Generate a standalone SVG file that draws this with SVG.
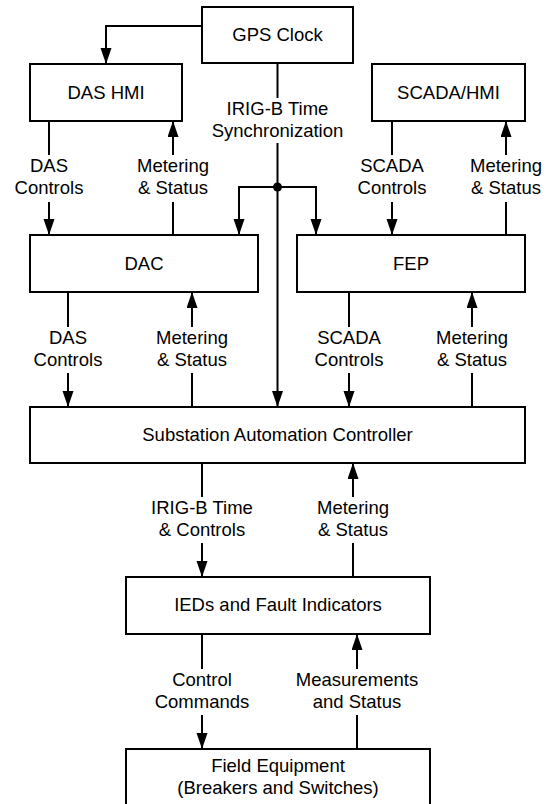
<svg xmlns="http://www.w3.org/2000/svg" width="548" height="804" viewBox="0 0 548 804">
<style>
.box{fill:#fff;stroke:#000;stroke-width:2}
.ln{fill:none;stroke:#000;stroke-width:2}
.arr{marker-end:url(#ah)}
text{font-family:"Liberation Sans",Arial,sans-serif;font-size:18.5px;fill:#000;text-anchor:middle}
</style>
<defs>
<marker id="ah" markerUnits="userSpaceOnUse" markerWidth="17" markerHeight="12" refX="16" refY="5.5" orient="auto">
<path d="M0,0 L16,5.5 L0,11 z" fill="#000"/>
</marker>
</defs>
<rect width="548" height="804" fill="#fff"/>
<g id="gps-clock"><rect class="box" x="202" y="7" width="151" height="56"/><text x="277.5" y="41">GPS Clock</text></g>
<g id="das-hmi"><rect class="box" x="30" y="64" width="152" height="57"/><text x="106" y="98.5">DAS HMI</text></g>
<g id="scada-hmi"><rect class="box" x="372" y="64" width="153" height="57"/><text x="448.5" y="98.5">SCADA/HMI</text></g>
<g id="dac"><rect class="box" x="30" y="235" width="228" height="57"/><text x="144" y="270">DAC</text></g>
<g id="fep"><rect class="box" x="297" y="235" width="228" height="57"/><text x="411" y="270">FEP</text></g>
<g id="sac"><rect class="box" x="30" y="407" width="495" height="56"/><text x="277.5" y="441">Substation Automation Controller</text></g>
<g id="ieds"><rect class="box" x="126" y="577" width="304" height="57"/><text x="278" y="611">IEDs and Fault Indicators</text></g>
<g id="field"><rect class="box" x="126" y="749" width="304" height="80"/><text x="278" y="772">Field Equipment</text><text x="278" y="794">(Breakers and Switches)</text></g>
<g id="connectors">
<path class="ln arr" d="M202,26 H106 V64"/>
<path class="ln" d="M277.5,63 V98"/>
<path class="ln arr" d="M277.5,143 V407"/>
<path class="ln arr" d="M277.5,187 H239 V235"/>
<path class="ln arr" d="M277.5,187 H316 V235"/>
<circle cx="277.5" cy="187" r="4.5" fill="#000"/>
<path class="ln" d="M49,121 V155"/><path class="ln arr" d="M49,202 V235"/>
<path class="ln arr" d="M173,155 V121"/><path class="ln" d="M173,202 V235"/>
<path class="ln" d="M392,121 V155"/><path class="ln arr" d="M392,202 V235"/>
<path class="ln arr" d="M506,155 V121"/><path class="ln" d="M506,202 V235"/>
<path class="ln" d="M68,292 V327"/><path class="ln arr" d="M68,373 V407"/>
<path class="ln arr" d="M192,327 V292"/><path class="ln" d="M192,373 V407"/>
<path class="ln" d="M349,292 V327"/><path class="ln arr" d="M349,373 V407"/>
<path class="ln arr" d="M472,327 V292"/><path class="ln" d="M472,373 V407"/>
<path class="ln" d="M202,463 V497"/><path class="ln arr" d="M202,543 V577"/>
<path class="ln arr" d="M353,497 V463"/><path class="ln" d="M353,543 V577"/>
<path class="ln" d="M202,634 V669"/><path class="ln arr" d="M202,715 V749"/>
<path class="ln arr" d="M357,669 V634"/><path class="ln" d="M357,715 V749"/>
</g>
<g id="labels">
<text x="277.5" y="115">IRIG-B Time</text><text x="277.5" y="137">Synchronization</text>
<text x="49" y="172">DAS</text><text x="49" y="194">Controls</text>
<text x="173" y="172">Metering</text><text x="173" y="194">&amp; Status</text>
<text x="392" y="172">SCADA</text><text x="392" y="194">Controls</text>
<text x="506" y="172">Metering</text><text x="506" y="194">&amp; Status</text>
<text x="68" y="344">DAS</text><text x="68" y="366">Controls</text>
<text x="192" y="344">Metering</text><text x="192" y="366">&amp; Status</text>
<text x="349" y="344">SCADA</text><text x="349" y="366">Controls</text>
<text x="472" y="344">Metering</text><text x="472" y="366">&amp; Status</text>
<text x="202" y="514">IRIG-B Time</text><text x="202" y="536">&amp; Controls</text>
<text x="353" y="514">Metering</text><text x="353" y="536">&amp; Status</text>
<text x="202" y="686">Control</text><text x="202" y="708">Commands</text>
<text x="357" y="686">Measurements</text><text x="357" y="708">and Status</text>
</g>
</svg>
